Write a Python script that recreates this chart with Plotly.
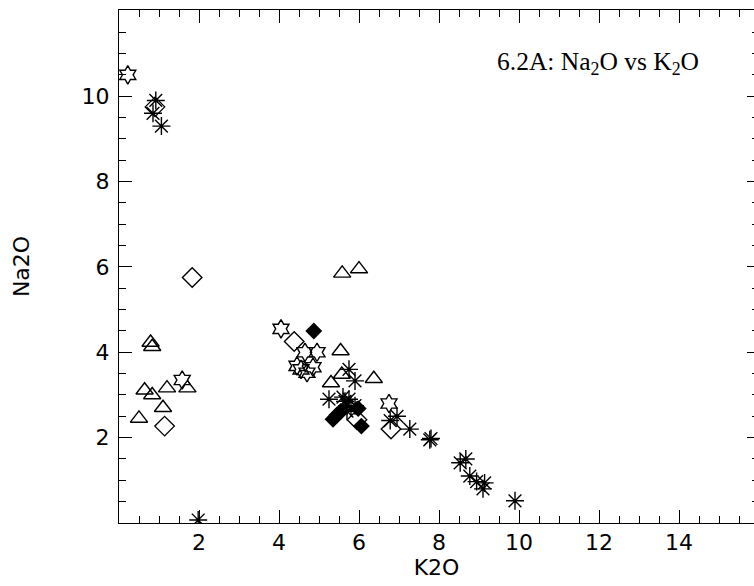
import plotly.graph_objects as go

# ---- data (K2O, Na2O) ----
star_k2o = [0.22, 1.58, 4.05, 4.65, 4.95, 4.45, 4.55, 4.70, 4.85, 6.75]
star_na2o = [10.50, 3.35, 4.55, 4.00, 4.00, 3.68, 3.60, 3.52, 3.65, 2.80]

ast_k2o = [0.92, 0.85, 1.06, 1.98, 5.75, 5.90, 5.25, 5.60, 5.65, 5.70, 5.75, 5.80,
           5.90, 5.70, 6.78, 6.95, 7.27, 7.77, 7.80, 8.53, 8.67, 8.77, 8.94, 9.14,
           9.10, 9.90]
ast_na2o = [9.90, 9.60, 9.30, 0.07, 3.60, 3.33, 2.90, 2.95, 2.85, 2.75, 2.90, 2.70,
            2.75, 2.62, 2.40, 2.50, 2.20, 1.95, 1.98, 1.41, 1.50, 1.10, 0.97, 0.94,
            0.80, 0.52]

odia_k2o = [0.90, 1.83, 1.14, 4.38, 5.95, 6.80]
odia_na2o = [9.75, 5.75, 2.27, 4.25, 2.42, 2.20]

fdia_k2o = [4.87, 5.35, 5.45, 5.55, 5.98, 6.06]
fdia_na2o = [4.50, 2.43, 2.53, 2.62, 2.68, 2.27]

tri_k2o = [0.79, 0.83, 0.64, 0.83, 1.20, 1.10, 0.50, 1.71, 5.58, 6.00, 5.54, 5.30,
           5.57, 6.37]
tri_na2o = [4.23, 4.13, 3.11, 3.00, 3.16, 2.70, 2.45, 3.16, 5.85, 5.95, 4.03, 3.28,
            3.48, 3.38]

x_ticks = [2, 4, 6, 8, 10, 12, 14]
y_ticks = [2, 4, 6, 8, 10]
y_right_ticks = [0, 2, 4, 6, 8, 10, 12]

title_text = "6.2A: Na<sub>2</sub>O vs K<sub>2</sub>O"

X_RANGE = [0, 15.875]
Y_RANGE = [0, 12.02]

fig = go.Figure()

def add(xs, ys, symbol, size, lw=1.4):
    fig.add_trace(go.Scatter(
        x=xs, y=ys, mode="markers", showlegend=False, hoverinfo="skip",
        marker=dict(symbol=symbol, size=size, color="black",
                    line=dict(color="black", width=lw)),
    ))

add(tri_k2o, tri_na2o, "triangle-up-open", 15)
add(odia_k2o, odia_na2o, "diamond-open", 15)
add(fdia_k2o, fdia_na2o, "diamond", 13, lw=0)
add(star_k2o, star_na2o, "hexagram-open", 14)
add(ast_k2o, ast_na2o, "asterisk-open", 15)

# empty trace so the right-hand tick-only axis is drawn
fig.add_trace(go.Scatter(x=[], y=[], yaxis="y2", showlegend=False, hoverinfo="skip"))

tickfont = dict(family="DejaVu Sans", size=22, color="black")
minor = dict(tickmode="linear", tick0=0, dtick=0.5, ticks="inside",
             ticklen=7, tickcolor="black", tickwidth=1)

fig.update_layout(
    width=754, height=586,
    margin=dict(l=119, r=0, t=10, b=63),
    paper_bgcolor="white", plot_bgcolor="white",
    xaxis=dict(
        range=X_RANGE, showgrid=False, zeroline=False,
        showline=True, linecolor="black", linewidth=1, mirror="ticks",
        ticks="inside", ticklen=13, tickwidth=1, tickcolor="black",
        tickmode="array", tickvals=x_ticks, tickfont=tickfont,
        minor=minor,
        title=dict(text="K2O", font=dict(family="DejaVu Sans", size=22, color="black"),
                   standoff=2),
    ),
    yaxis=dict(
        range=Y_RANGE, showgrid=False, zeroline=False,
        showline=True, linecolor="black", linewidth=1, mirror=False,
        ticks="inside", ticklen=13, tickwidth=1, tickcolor="black",
        tickmode="array", tickvals=y_ticks, tickfont=tickfont,
        ticklabelstandoff=4,
        minor=minor,
        title=dict(text="Na2O", font=dict(family="DejaVu Sans", size=22, color="black"),
                   standoff=45),
    ),
    yaxis2=dict(
        range=Y_RANGE, overlaying="y", side="right", showgrid=False, zeroline=False,
        showline=False, showticklabels=False,
        ticks="inside", ticklen=7, tickwidth=1, tickcolor="black",
        tickmode="array", tickvals=y_right_ticks,
        minor=dict(tickmode="linear", tick0=0, dtick=0.5, ticks="inside",
                   ticklen=2, tickcolor="black", tickwidth=1),
    ),
    annotations=[dict(
        x=9.4, y=10.78, xref="x", yref="y", xanchor="left", yanchor="middle",
        text=title_text, showarrow=False,
        font=dict(family="Liberation Serif", size=25.5, color="black"),
    )],
)

fig.write_html(
    "out.html",
    config={"displayModeBar": False},
    post_script=("document.body.style.margin='0';"
                 "document.body.style.overflow='hidden';"
                 "document.documentElement.style.overflow='hidden';"),
)
